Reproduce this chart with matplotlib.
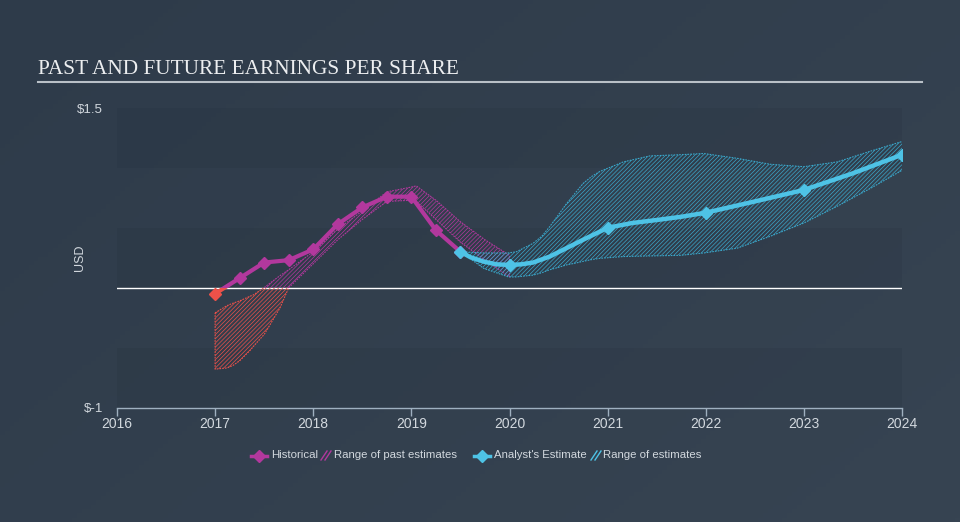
"""
Past and future earnings per share chart (historical EPS, past estimate
range, analyst estimates and their range).

Writes out.png at 960x522.
"""

import matplotlib
matplotlib.use("Agg")
import numpy as np
import matplotlib.pyplot as plt
from matplotlib.patches import Rectangle
from matplotlib.lines import Line2D

# historical EPS (quarterly points)
hist_years = [2017.0, 2017.25, 2017.5, 2017.75, 2018.0, 2018.25, 2018.5, 2018.75, 2019.0, 2019.25, 2019.5]
hist_eps = [-0.05, 0.08, 0.21, 0.23, 0.32, 0.53, 0.67, 0.76, 0.76, 0.48, 0.30]

# range of past estimates
past_years = [2017.0, 2017.12, 2017.18, 2017.25, 2017.36, 2017.39, 2017.5, 2017.53, 2017.66, 2017.75,
              2018.0, 2018.25, 2018.5, 2018.75, 2019.0, 2019.05, 2019.25, 2019.5, 2019.75, 2020.0]
past_high = [-0.21, -0.15, -0.13, -0.11, -0.07, -0.06, 0.0, 0.02, 0.10, 0.15,
             0.30, 0.49, 0.64, 0.80, 0.84, 0.85, 0.73, 0.55, 0.40, 0.27]
past_low = [-0.68, -0.67, -0.65, -0.61, -0.52, -0.49, -0.39, -0.35, -0.17, 0.0,
            0.20, 0.40, 0.57, 0.72, 0.73, 0.72, 0.57, 0.38, 0.23, 0.09]

# analyst estimates (markers) and the drawn curve through them
est_years = [2019.5, 2020.0, 2021.0, 2022.0, 2023.0, 2024.0]
est_eps = [0.30, 0.19, 0.50, 0.626, 0.816, 1.11]
curve_years = [2019.5, 2019.6, 2019.74, 2019.87, 2020.0, 2020.12, 2020.24, 2020.41, 2020.58, 2020.75,
               2021.0, 2021.25, 2021.5, 2021.75, 2022.0, 2022.5, 2023.0, 2023.5, 2024.0]
curve_eps = [0.30, 0.255, 0.217, 0.195, 0.19, 0.195, 0.21, 0.26, 0.33, 0.40,
             0.50, 0.54, 0.565, 0.592, 0.626, 0.72, 0.816, 0.955, 1.11]

# range of analyst estimates
rng_years = [2019.5, 2019.74, 2019.99, 2020.07, 2020.24, 2020.33, 2020.41, 2020.5, 2020.58, 2020.67,
             2020.75, 2020.84, 2020.92, 2021.16, 2021.43, 2021.74, 2021.98, 2022.32, 2022.66, 2023.0,
             2023.34, 2023.68, 2024.0]
rng_high = [0.30, 0.29, 0.29, 0.30, 0.37, 0.43, 0.51, 0.61, 0.70, 0.79,
            0.87, 0.93, 0.97, 1.05, 1.10, 1.11, 1.12, 1.08, 1.03, 1.01,
            1.05, 1.14, 1.22]
rng_low = [0.30, 0.16, 0.09, 0.09, 0.105, 0.125, 0.15, 0.17, 0.19, 0.205,
           0.22, 0.235, 0.245, 0.26, 0.265, 0.27, 0.29, 0.33, 0.43, 0.54,
           0.68, 0.83, 0.98]

x_ticks = [2016, 2017, 2018, 2019, 2020, 2021, 2022, 2023, 2024]
y_ticks = [-1, 1.5]
y_tick_labels = ["$-1", "$1.5"]

MAGENTA = "#b2389d"
RED = "#ec5149"
CYAN = "#4ec3e6"
CYAN_HATCH = "#3aa6c9"
TEXT = "#d2d8de"
FONT = "Liberation Sans"

plt.rcParams["hatch.linewidth"] = 0.5

fig = plt.figure(figsize=(9.6, 5.22), dpi=100)

# background gradient
bg = fig.add_axes([0, 0, 1, 1], zorder=-10)
gx, gy = np.meshgrid(np.linspace(0, 1, 200), np.linspace(0, 1, 120))
grad = 0.6 * gx + 0.4 * gy
c0 = np.array([0x2e, 0x3b, 0x4a]) / 255
c1 = np.array([0x37, 0x44, 0x52]) / 255
img = c0[None, None, :] * (1 - grad[..., None]) + c1[None, None, :] * grad[..., None]
bg.imshow(img, aspect="auto", extent=[0, 1, 0, 1], origin="upper")
bg.axis("off")

ax = fig.add_axes([117 / 960, 1 - 407.5 / 522, 785 / 960, 299.5 / 522])
ax.set_facecolor("none")
ax.set_xlim(2016, 2024)
ax.set_ylim(-1, 1.5)

# alternating horizontal bands
for lo in (-1.0, 0.0, 1.0):
    ax.axhspan(lo, lo + 0.5, color="#1f2a36", alpha=0.14, lw=0, zorder=0)
ax.axhline(0, color="white", lw=1.0, zorder=2)

above = Rectangle((2010, 0), 30, 10, transform=ax.transData)
below = Rectangle((2010, -10), 30, 10, transform=ax.transData)


def clip(artists, patch):
    for a in artists:
        a.set_clip_path(patch)


# past estimates band, red below zero, magenta above
for colour, patch in ((MAGENTA, above), (RED, below)):
    f = ax.fill_between(past_years, past_low, past_high, facecolor="none",
                        edgecolor=colour, hatch="////////", lw=0, zorder=3)
    clip([f], patch)
    outline_x = past_years + past_years[::-1] + [past_years[0]]
    outline_y = past_high + past_low[::-1] + [past_high[0]]
    ln = ax.plot(outline_x, outline_y, color=colour, lw=0.8, ls=(0, (1.5, 1)), zorder=3)
    clip(ln, patch)

# analyst estimate band
ax.fill_between(rng_years, rng_low, rng_high, facecolor="none",
                edgecolor=CYAN_HATCH, hatch="////////", lw=0, zorder=3)
ax.plot(rng_years, rng_high, color=CYAN_HATCH, lw=0.8, ls=(0, (1.5, 1)), zorder=3)
ax.plot(rng_years, rng_low, color=CYAN_HATCH, lw=0.8, ls=(0, (1.5, 1)), zorder=3)

# historical line
for colour, patch in ((MAGENTA, above), (RED, below)):
    ln = ax.plot(hist_years, hist_eps, color=colour, lw=3, solid_joinstyle="round", zorder=4)
    clip(ln, patch)
ax.plot(hist_years[1:], hist_eps[1:], ls="none", marker="D", ms=6.5, color=MAGENTA, zorder=5)
ax.plot(hist_years[:1], hist_eps[:1], ls="none", marker="D", ms=6.5, color=RED, zorder=5)

# analyst estimate line
ax.plot(curve_years, curve_eps, color=CYAN, lw=3.2, solid_joinstyle="round",
        solid_capstyle="round", zorder=6)
ax.plot(est_years, est_eps, ls="none", marker="D", ms=6.5, color=CYAN, zorder=7)

# axes styling
for s in ("top", "right", "left"):
    ax.spines[s].set_visible(False)
ax.spines["bottom"].set_color("#9fb0c0")
ax.spines["bottom"].set_linewidth(1.0)
ax.set_xticks(x_ticks)
ax.set_xticklabels([str(t) for t in x_ticks], fontsize=10, color=TEXT, fontfamily=FONT)
ax.tick_params(axis="x", colors="#9fb0c0", length=6, width=1, pad=1, labelcolor=TEXT)
ax.set_yticks(y_ticks)
ax.set_yticklabels(y_tick_labels, fontsize=9.5, color=TEXT, fontfamily=FONT)
ax.tick_params(axis="y", length=0, pad=10, labelcolor=TEXT)
ax.set_ylabel("USD", fontsize=9, color=TEXT, fontfamily=FONT)
ax.yaxis.set_label_coords(-0.04, 0.5)

# title and rule
fig.text(38 / 960, 1 - 74 / 522, "PAST AND FUTURE EARNINGS PER SHARE", fontsize=15.3,
         fontfamily="Liberation Serif", color="#eceef0", ha="left", va="baseline")
fig.add_artist(Line2D([38 / 960, 922 / 960], [1 - 81.5 / 522] * 2, color="#b9c0c7", lw=1.5))

# legend
ly = 1 - 455.5 / 522


def fx(px):
    return px / 960


def legend_marker(x, colour):
    fig.add_artist(Line2D([fx(x - 8), fx(x + 8)], [ly, ly], color=colour, lw=2.5))
    fig.add_artist(Line2D([fx(x)], [ly], marker="D", ms=6, color=colour, ls="none"))


def legend_hatch(x, colour):
    for dx in (-2, 2):
        fig.add_artist(Line2D([fx(x + dx - 3), fx(x + dx + 3)], [ly - 4.5 / 522, ly + 4.5 / 522],
                              color=colour, lw=1))


legend_marker(259, MAGENTA)
fig.text(fx(271), ly, "Historical", fontsize=8.2, color=TEXT, fontfamily=FONT, va="center")
legend_hatch(326, MAGENTA)
fig.text(fx(334), ly, "Range of past estimates", fontsize=8.2, color=TEXT, fontfamily=FONT, va="center")
legend_marker(482, CYAN)
fig.text(fx(494), ly, "Analyst's Estimate", fontsize=8.2, color=TEXT, fontfamily=FONT, va="center")
legend_hatch(596, CYAN)
fig.text(fx(603), ly, "Range of estimates", fontsize=8.2, color=TEXT, fontfamily=FONT, va="center")

fig.savefig("out.png", dpi=100, facecolor="#323f4d")
plt.close(fig)
